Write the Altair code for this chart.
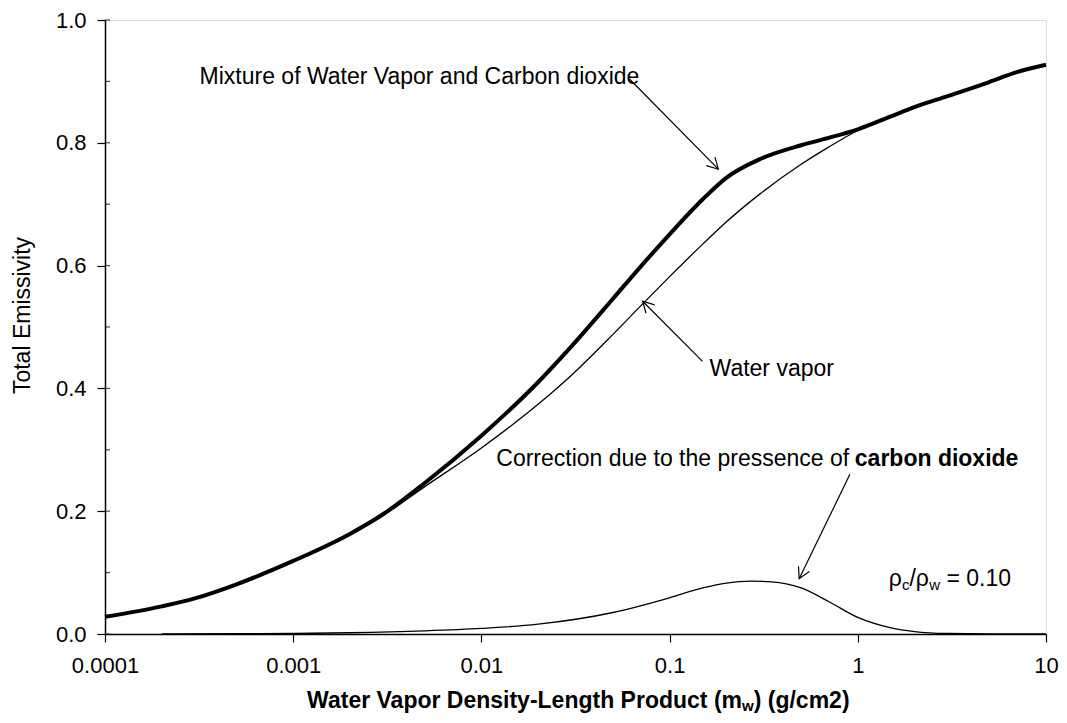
import altair as alt
import pandas as pd

FONT = "Liberation Sans"

# ---- data ----
mw = [0.0001, 0.0002, 0.0003, 0.0005, 0.001, 0.002, 0.003, 0.005, 0.01, 0.02, 0.03,
      0.05, 0.07, 0.1, 0.15, 0.2, 0.3, 0.5, 0.7, 1, 1.5, 2, 3, 5, 7, 10]
mixture = [0.028, 0.045, 0.058, 0.081, 0.119, 0.163, 0.195, 0.246, 0.323, 0.41, 0.468,
           0.546, 0.598, 0.651, 0.708, 0.743, 0.773, 0.796, 0.808, 0.822, 0.843, 0.858,
           0.876, 0.899, 0.915, 0.927]
water = [0.028, 0.045, 0.058, 0.081, 0.119, 0.162, 0.193, 0.240, 0.303, 0.374, 0.421,
         0.488, 0.534, 0.582, 0.635, 0.671, 0.716, 0.765, 0.793, 0.82, 0.843, 0.858,
         0.876, 0.899, 0.915, 0.927]
corr_x = [0.0002, 0.0005, 0.001, 0.002, 0.005, 0.01, 0.02, 0.05, 0.1, 0.15, 0.2, 0.27,
          0.35, 0.5, 0.7, 1, 1.5, 2, 3, 5, 10]
correction = [0.0, 0.0004, 0.001, 0.002, 0.005, 0.009, 0.016, 0.035, 0.059, 0.075, 0.083,
              0.086, 0.085, 0.075, 0.053, 0.027, 0.01, 0.004, 0.0008, 0.0, 0.0]

x_ticks = [0.0001, 0.001, 0.01, 0.1, 1, 10]
y_major = [0.0, 0.2, 0.4, 0.6, 0.8, 1.0]
y_minor = [round(i * 0.1, 1) for i in range(11)]

# annotation anchors (data coordinates)
arrow_x = [0.0614, 0.1496, 0.908]
arrow_y = [0.9035, 0.444, 0.260]
arrow_x2 = [0.1815, 0.0719, 0.488]
arrow_y2 = [0.757, 0.542, 0.090]
arrow_angle = [135.6, 315.5, 205.7]

W, H = 941, 614

df_mix = pd.DataFrame({"x": mw, "y": mixture})
df_wat = pd.DataFrame({"x": mw, "y": water})
df_cor = pd.DataFrame({"x": corr_x, "y": correction})
df_arr = pd.DataFrame({"x": arrow_x, "y": arrow_y, "x2": arrow_x2, "y2": arrow_y2,
                       "ang": arrow_angle})
df_minor = pd.DataFrame({"y": y_minor})

xscale = alt.Scale(type="log", domain=[0.0001, 10])
yscale = alt.Scale(domain=[0, 1])

x_axis = alt.Axis(values=x_ticks, format="~g", tickSize=8, labelPadding=13,
                  labelFontSize=22, labelFont=FONT, labelColor="black",
                  labelFlush=False, labelOverlap=False, domainColor="black",
                  domainWidth=1.5, tickColor="black", tickWidth=1.2, grid=False,
                  title=None)
y_axis = alt.Axis(values=y_major, format=".1f", tickSize=8, labelPadding=11,
                  labelFontSize=22, labelFont=FONT, labelColor="black",
                  labelOverlap=False, domainColor="black", domainWidth=1.5,
                  tickColor="black", tickWidth=1.2, grid=False,
                  title="Total Emissivity", titleFont=FONT, titleFontSize=23,
                  titleFontWeight="normal", titleColor="black", titleX=-83,
                  titleY=295, titleAngle=270, titleBaseline="middle",
                  titleAlign="center")

def X(field="x"):
    return alt.X(f"{field}:Q", scale=xscale, axis=x_axis)

def Y(field="y"):
    return alt.Y(f"{field}:Q", scale=yscale, axis=y_axis)

cor_line = alt.Chart(df_cor).mark_line(color="black", strokeWidth=1.3,
                                       interpolate="monotone").encode(x=X(), y=Y())
wat_line = alt.Chart(df_wat).mark_line(color="black", strokeWidth=1.3,
                                       interpolate="monotone").encode(x=X(), y=Y())
mix_line = alt.Chart(df_mix).mark_line(color="black", strokeWidth=4,
                                       interpolate="monotone").encode(x=X(), y=Y())

# inner minor ticks of the y axis (every 0.1)
minor = alt.Chart(df_minor).mark_tick(color="black", thickness=1.2, size=5,
                                      orient="horizontal").encode(
    y=Y(), x=alt.value(2.5))

arrows = alt.Chart(df_arr).mark_rule(color="black", strokeWidth=1.2).encode(
    x=X(), y=Y(), x2="x2:Q", y2="y2:Q")
heads = alt.Chart(df_arr).mark_point(shape="M-0.55,1L0,0L0.55,1", filled=False,
                                     color="black", strokeWidth=1.2, size=480,
                                     opacity=1).encode(
    x=X("x2"), y=Y("y2"), angle=alt.Angle("ang:Q", scale=None))

def label(x, y, t, size=23, weight="normal", dx=0, dy=0, align="left"):
    d = pd.DataFrame({"x": [x], "y": [y], "t": [t]})
    return alt.Chart(d).mark_text(align=align, baseline="middle", font=FONT,
                                  fontSize=size, fontWeight=weight, color="black",
                                  dx=dx, dy=dy).encode(x=X(), y=Y(), text="t:N")

def plabel(px, py, t, size=23, weight="normal", align="left"):
    d = pd.DataFrame({"t": [t]})
    return alt.Chart(d).mark_text(align=align, baseline="middle", font=FONT,
                                  fontSize=size, fontWeight=weight,
                                  color="black").encode(
        x=alt.value(px), y=alt.value(py), text="t:N")

XW, YT = 637, 681
texts = [
    label(0.000318, 0.907, "Mixture of Water Vapor and Carbon dioxide"),
    label(0.163, 0.432, "Water vapor"),
    label(0.0120, 0.2846, "Correction due to the pressence of"),
    label(0.964, 0.2846, "carbon dioxide", weight="bold"),
    label(1.459, 0.090, "ρ"),
    label(1.459, 0.090, "c", size=15, dx=13.3, dy=6),
    label(1.459, 0.090, "/ρ", dx=20.8),
    label(1.459, 0.090, "w", size=15, dx=40.5, dy=6),
    label(1.459, 0.090, "= 0.10", dx=57.7),
    plabel(XW, YT, "Water Vapor Density-Length Product (m", weight="bold",
           align="right"),
    plabel(XW, YT + 5, "w", size=15, weight="bold"),
    plabel(XW + 11.7, YT, ") (g/cm2)", weight="bold"),
]

chart = alt.layer(cor_line, wat_line, mix_line, minor, arrows, heads, *texts).properties(
    width=W, height=H,
    autosize=alt.AutoSizeParams(type="none"),
    padding={"left": 97, "top": 12, "right": 13, "bottom": 81},
).configure_view(stroke="#888888", strokeWidth=1.5).configure(background="white")

chart.save("out.html", embed_options={"renderer": "svg", "actions": False})
